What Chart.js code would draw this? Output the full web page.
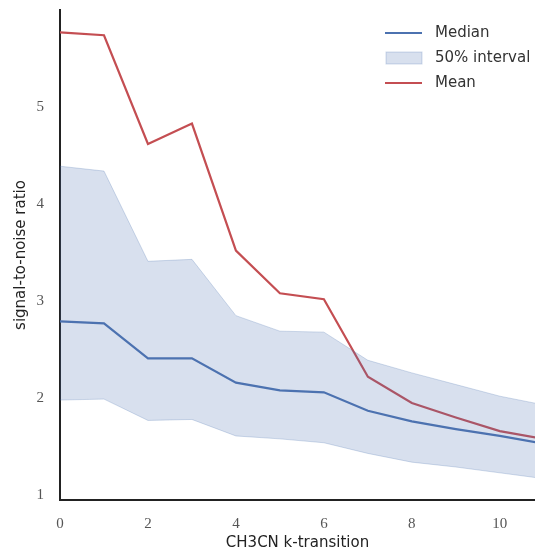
<!DOCTYPE html>
<html lang="en">
<head>
<meta charset="UTF-8">
<title>SNR vs k-transition</title>
<style>
  html, body { margin: 0; padding: 0; background: #fff; }
  #wrap { width: 535px; height: 552px; }
</style>
</head>
<body>
<div id="wrap"><canvas id="myChart" width="535" height="552"></canvas></div>
<script src="https://cdn.jsdelivr.net/npm/chart.js"></script>
<script>
  // k-transition values
  const kTransition = [0, 1, 2, 3, 4, 5, 6, 7, 8, 9, 10, 11];
  const median = [2.79, 2.77, 2.41, 2.41, 2.16, 2.08, 2.06, 1.87, 1.76, 1.68, 1.61, 1.53];
  const upper50 = [4.39, 4.34, 3.41, 3.43, 2.85, 2.69, 2.68, 2.39, 2.26, 2.14, 2.02, 1.93];
  const lower50 = [1.98, 1.99, 1.77, 1.78, 1.61, 1.58, 1.54, 1.43, 1.34, 1.29, 1.23, 1.17];
  const mean = [5.77, 5.74, 4.62, 4.83, 3.52, 3.08, 3.02, 2.22, 1.95, 1.80, 1.66, 1.58];
  const xTicks = [0, 2, 4, 6, 8, 10];
  const yTicks = [1, 2, 3, 4, 5];

  const blue = '#4c72b0';
  const red = '#c44e52';
  const pts = arr => arr.map((v, i) => ({x: kTransition[i], y: v}));

  // legend drawn inside the plot, top right
  const insideLegend = {
    id: 'insideLegend',
    afterDraw(chart) {
      const c = chart.ctx;
      const items = [
        {text: 'Median', kind: 'line', color: blue},
        {text: '50% interval', kind: 'box'},
        {text: 'Mean', kind: 'line', color: red}
      ];
      c.save();
      c.font = '15px "DejaVu Sans", sans-serif';
      c.textBaseline = 'middle';
      items.forEach((it, i) => {
        const y = 33 + i * 25;
        if (it.kind === 'line') {
          c.strokeStyle = it.color;
          c.lineWidth = 2;
          c.beginPath();
          c.moveTo(385, y);
          c.lineTo(422, y);
          c.stroke();
        } else {
          c.fillStyle = 'rgba(76,114,176,0.22)';
          c.fillRect(386, y - 6, 36, 12);
          c.strokeStyle = 'rgba(76,114,176,0.25)';
          c.lineWidth = 1;
          c.strokeRect(386, y - 6, 36, 12);
        }
        c.fillStyle = '#333';
        c.fillText(it.text, 435, y);
      });
      c.restore();
    }
  };

  const data = {
    datasets: [
      {
        label: 'lower',
        data: pts(lower50),
        borderColor: 'rgba(76,114,176,0.25)',
        borderWidth: 1,
        pointRadius: 0,
        fill: false
      },
      {
        label: '50% interval',
        data: pts(upper50),
        borderColor: 'rgba(76,114,176,0.25)',
        backgroundColor: 'rgba(76,114,176,0.22)',
        borderWidth: 1,
        pointRadius: 0,
        fill: '-1'
      },
      {
        label: 'Median',
        data: pts(median),
        borderColor: blue,
        borderWidth: 2.2,
        pointRadius: 0,
        fill: false
      },
      {
        label: 'Mean',
        data: pts(mean),
        borderColor: red,
        borderWidth: 2.2,
        pointRadius: 0,
        fill: false
      }
    ]
  };

  const tickFont = {family: '"Liberation Serif", serif', size: 15};
  const titleFont = {family: '"DejaVu Sans", sans-serif', size: 15};

  const config = {
    type: 'line',
    data: data,
    options: {
      responsive: false,
      animation: false,
      layout: {padding: {top: 10, right: 0, left: 12, bottom: 0}},
      plugins: {
        legend: {display: false},
        tooltip: {enabled: false}
      },
      scales: {
        x: {
          type: 'linear',
          min: 0,
          max: 10.8,
          afterBuildTicks(axis) { axis.ticks = xTicks.map(v => ({value: v})); },
          afterFit(axis) { axis.height = 52; axis.paddingLeft = 0; axis.paddingRight = 0; },
          ticks: {padding: 15, color: '#555', font: tickFont, maxRotation: 0},
          grid: {display: false, drawTicks: false},
          border: {display: true, color: '#222', width: 2},
          title: {display: true, text: 'CH3CN k-transition', color: '#222', font: titleFont, padding: {top: 3, bottom: 0}}
        },
        y: {
          min: 0.95,
          max: 6.0,
          afterBuildTicks(axis) { axis.ticks = yTicks.map(v => ({value: v})); },
          afterFit(axis) { axis.width = 48; axis.paddingTop = 0; axis.paddingBottom = 0; },
          ticks: {padding: 16, color: '#555', font: tickFont},
          grid: {display: false, drawTicks: false},
          border: {display: true, color: '#222', width: 2},
          title: {display: true, text: 'signal-to-noise ratio', color: '#222', font: titleFont, padding: {top: 0, bottom: 4}}
        }
      }
    },
    plugins: [insideLegend]
  };
  new Chart(document.getElementById('myChart'), config);
</script>
</body>
</html>
